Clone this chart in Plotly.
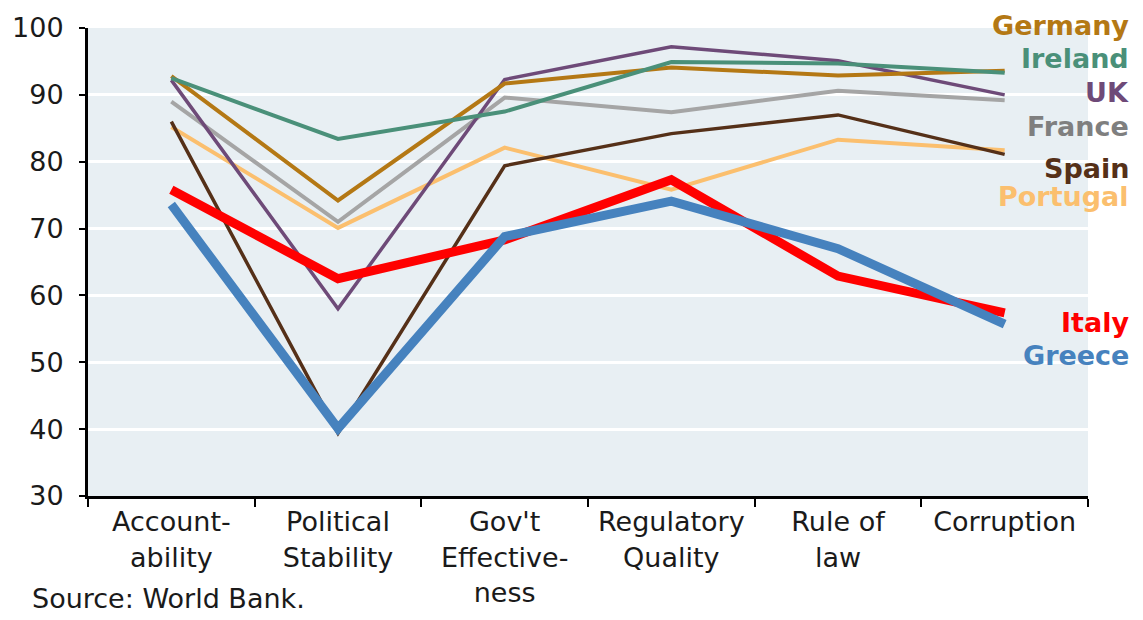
import plotly.graph_objects as go

categories = ["Accountability", "Political Stability", "Gov't Effectiveness",
              "Regulatory Quality", "Rule of law", "Corruption"]
tick_labels = ["Account-<br>ability", "Political<br>Stability", "Gov't<br>Effective-<br>ness",
               "Regulatory<br>Quality", "Rule of<br>law", "Corruption"]

germany = [92.8, 74.2, 91.7, 94.1, 92.9, 93.6]
ireland = [92.5, 83.4, 87.5, 94.9, 94.7, 93.3]
uk = [92.2, 58.0, 92.3, 97.2, 95.1, 90.0]
france = [89.0, 71.0, 89.6, 87.4, 90.6, 89.2]
spain = [86.0, 39.4, 79.4, 84.2, 87.0, 81.1]
portugal = [85.2, 70.1, 82.1, 75.8, 83.3, 81.7]
italy = [75.8, 62.5, 68.3, 77.3, 62.9, 57.4]
greece = [73.6, 40.1, 68.8, 74.1, 67.0, 55.7]

FONT = "DejaVu Sans, Arial"
Y_MIN, Y_MAX = 30, 100

# name, values, line colour, label colour, width, label y (in axis units)
series = [
    ("Germany", germany, "#B47814", "#B47814", 4, 100.3),
    ("Ireland", ireland, "#4A9079", "#4A9079", 4, 95.4),
    ("UK", uk, "#6E4A78", "#6E4A78", 3.5, 90.4),
    ("France", france, "#A5A5A5", "#7F7F7F", 4, 85.2),
    ("Spain", spain, "#553018", "#553018", 3.5, 79.0),
    ("Portugal", portugal, "#FBBF6E", "#FBBF6E", 4, 74.8),
    ("Italy", italy, "#FF0000", "#FF0000", 9, 55.9),
    ("Greece", greece, "#4682BE", "#4682BE", 9, 51.0),
]

fig = go.Figure()

draw_order = ["Portugal", "Spain", "France", "UK", "Germany", "Ireland", "Italy", "Greece"]
lookup = {s[0]: s for s in series}
for name in draw_order:
    _, vals, col, _, w, _ = lookup[name]
    fig.add_trace(go.Scatter(x=categories, y=vals, mode="lines", name=name,
                             line=dict(color=col, width=w), showlegend=False))

# country labels on the right (paper coords so they are never hidden)
for name, vals, col, lab_col, w, ly in series:
    fig.add_annotation(x=1.043, xref="paper", y=(ly - Y_MIN) / (Y_MAX - Y_MIN), yref="paper",
                       text="<b>%s</b>" % name, showarrow=False,
                       xanchor="right", yanchor="middle",
                       font=dict(family=FONT, size=27, color=lab_col))

fig.add_annotation(x=-0.058, xref="paper", y=-0.218, yref="paper", text="Source: World Bank.",
                   showarrow=False, xanchor="left", yanchor="middle",
                   font=dict(family=FONT, size=27, color="#1a1a1a"))

fig.update_layout(
    width=1143, height=620,
    margin=dict(l=88, r=55, t=20, b=122),
    paper_bgcolor="white",
    plot_bgcolor="#E8EFF3",
    font=dict(family=FONT, size=27, color="#1a1a1a"),
)
fig.update_xaxes(
    type="category", tickvals=categories, ticktext=tick_labels,
    range=[-0.5, 5.5], tickson="boundaries", ticks="outside", ticklen=8,
    tickwidth=2, tickcolor="black", showline=True, linecolor="black", linewidth=3,
    showgrid=False, tickfont=dict(size=27),
)
fig.update_yaxes(
    range=[Y_MIN, Y_MAX], dtick=10, ticks="outside", ticklen=6, tickwidth=2,
    tickcolor="black", showline=True, linecolor="black", linewidth=3,
    gridcolor="white", gridwidth=3, zeroline=False, tickfont=dict(size=27),
    ticklabelstandoff=10,
)

fig.write_html("out.html", config={"displayModeBar": False},
               post_script="document.body.style.margin='0';")
